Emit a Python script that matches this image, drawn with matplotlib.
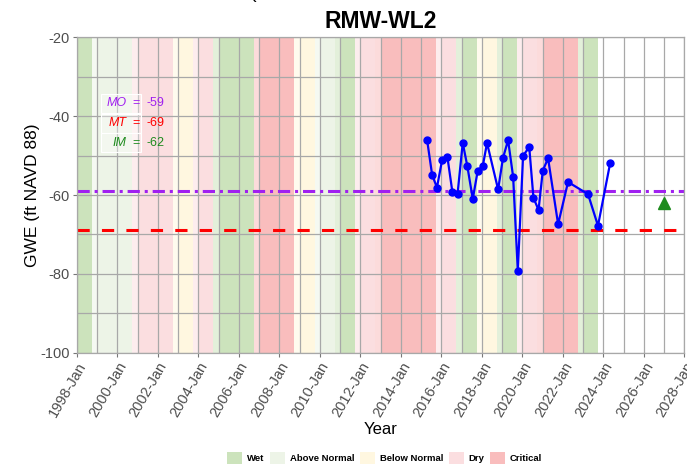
import datetime as dt

import matplotlib
matplotlib.use("Agg")
import matplotlib.pyplot as plt
import matplotlib.dates as mdates
from matplotlib.patches import Patch, Rectangle
from matplotlib.colors import to_rgb

plt.rcParams["font.family"] = ["Liberation Sans", "DejaVu Sans"]
plt.rcParams["axes.unicode_minus"] = False

# water year classification (shown Oct (WY-1) .. Sep WY)
wy_years = list(range(1998, 2024))
wy_types = ["W", "AN", "AN", "D", "D", "BN", "D", "W", "W", "C", "C", "BN", "AN",
            "W", "D", "C", "C", "C", "D", "W", "BN", "W", "D", "C", "C", "W"]
type_names = ["Wet", "Above Normal", "Below Normal", "Dry", "Critical"]
type_codes = ["W", "AN", "BN", "D", "C"]
type_colors = ["#CCE3BC", "#EDF4E7", "#FFF7E0", "#FBDEE0", "#F9BDBD"]

# groundwater elevation observations
obs_dates = ["2015-04-20", "2015-07-20", "2015-10-15", "2016-01-15", "2016-04-20",
             "2016-07-20", "2016-10-20", "2017-01-22", "2017-04-15", "2017-07-22",
             "2017-10-20", "2018-01-18", "2018-04-05", "2018-10-22", "2019-01-18",
             "2019-04-20", "2019-07-20", "2019-10-12", "2020-01-15", "2020-05-05",
             "2020-07-20", "2020-10-20", "2021-01-05", "2021-04-10", "2021-10-08",
             "2022-04-05", "2023-04-01", "2023-09-27", "2024-05-05"]
obs_gwe = [-46.0, -54.9, -58.1, -51.2, -50.3, -59.3, -59.8, -46.8, -52.7, -61.0,
           -53.8, -52.7, -46.8, -58.6, -50.6, -46.1, -55.4, -79.2, -50.1, -47.8,
           -60.7, -63.8, -53.8, -50.7, -67.4, -56.7, -59.8, -67.8, -51.8]

# sustainable management criteria
mo_value = -59
mt_value = -69
im_value = -62
im_date = "2027-01-01"

site_name = "RMW-WL2"


def to_date(s):
    return dt.datetime.strptime(s, "%Y-%m-%d")


fig = plt.figure(figsize=(6.87, 4.74), dpi=100)
ax = fig.add_axes([0.1117, 0.2559, 0.8844, 0.6654])

x0 = dt.datetime(1998, 1, 1)
x1 = dt.datetime(2028, 1, 1)

color_of = dict(zip(type_codes, type_colors))
prev = None
for yr, t in zip(wy_years, wy_types):
    c = to_rgb(color_of[t])
    light = tuple(0.55 * v + 0.45 for v in c)
    oct_prev = dt.datetime(yr - 1, 10, 1)
    jan = dt.datetime(yr, 1, 1)
    oct_this = dt.datetime(yr, 10, 1)
    if t == prev:
        ax.axvspan(max(oct_prev, x0), oct_this, color=c, lw=0, zorder=0.5)
    else:
        if oct_prev >= x0:
            ax.axvspan(oct_prev, jan, color=light, lw=0, zorder=0.5)
        ax.axvspan(max(jan, x0), oct_this, color=c, lw=0, zorder=0.5)
    prev = t

# MO / MT lines
ax.axhline(mo_value, color="#A020F0", lw=2.2, dashes=(4, 1.6, 1, 1.6), zorder=2)
ax.axhline(mt_value, color="red", lw=2.2, dashes=(4, 4), zorder=2)

dates = [to_date(d) for d in obs_dates]
ax.plot(dates, obs_gwe, color="blue", lw=1.6, marker="o", markersize=5, zorder=3)

ax.plot([to_date(im_date)], [im_value], marker="^", color="#1E8B1E",
        markersize=8, ls="none", zorder=3)

ax.set_xlim(x0, x1)
ax.set_ylim(-100, -20)
ax.set_yticks([-20, -40, -60, -80, -100])
ax.set_yticks([-30, -50, -70, -90], minor=True)
ax.xaxis.set_major_locator(mdates.YearLocator(2))
ax.xaxis.set_minor_locator(mdates.YearLocator(1))
ax.xaxis.set_major_formatter(mdates.DateFormatter("%Y-%b"))

grid_col = "#A8A8A8"
ax.grid(True, which="both", color=grid_col, lw=0.9)
for s in ax.spines.values():
    s.set_color(grid_col)
    s.set_linewidth(0.9)
ax.tick_params(which="major", length=3, color="#777777", labelcolor="#4D4D4D",
               labelsize=10.5, pad=2)
ax.tick_params(which="minor", length=0)
for lab in ax.get_xticklabels():
    lab.set_rotation(60)
    lab.set_ha("right")
    lab.set_va("top")
    lab.set_rotation_mode("anchor")

ax.set_xlabel("Year", fontsize=12, labelpad=2)
ax.set_ylabel("GWE (ft NAVD 88)", fontsize=12.5, labelpad=0.5)
ax.set_title(site_name, fontsize=16.5, fontweight="bold", pad=7)

# criteria labels
labels = [("MO", mo_value, "#A020F0"), ("MT", mt_value, "red"), ("IM", im_value, "#1E8B1E")]
row_y = [0.791, 0.727, 0.666]
for (name, val, col), yy in zip(labels, row_y):
    ax.add_patch(Rectangle((0.0395, yy - 0.0305), 0.066, 0.061, transform=ax.transAxes,
                           facecolor=(1, 1, 1, 0.35), edgecolor="white", lw=0.8, zorder=4))
    ax.text(0.103, yy, "=", transform=ax.transAxes, ha="right", va="center",
            color=col, fontsize=9, zorder=5)
    ax.annotate(name, xy=(0.103, yy), xycoords="axes fraction", xytext=(-9, 0),
                textcoords="offset points", ha="right", va="center", color=col,
                fontsize=9, style="italic", zorder=5)
    ax.text(0.114, yy, f"{val}", transform=ax.transAxes, ha="left", va="center",
            color=col, fontsize=9, zorder=5)

# clipped upper title line
fig.text(253 / 687, 1.004, "(", ha="center", va="baseline", fontsize=14)

handles = [Patch(facecolor=c, edgecolor="none", label=n) for n, c in zip(type_names, type_colors)]
fig.legend(handles=handles, loc="center", bbox_to_anchor=(0.56, 0.034), ncol=5,
           frameon=False, prop={"size": 6.8, "weight": "bold"},
           handlelength=1.6, handleheight=1.6, handletextpad=0.5, columnspacing=0.6)

fig.savefig("out.png", dpi=100)
